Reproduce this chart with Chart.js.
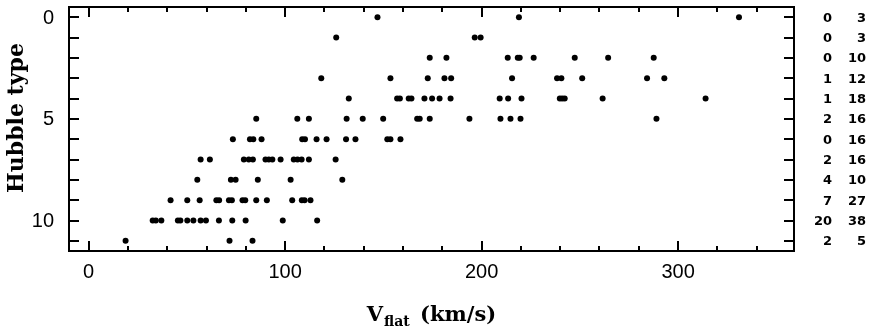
<!DOCTYPE html>
<html>
<head>
<meta charset="utf-8">
<script src="https://cdn.jsdelivr.net/npm/chart.js@4/dist/chart.umd.min.js"></script>
<style>
  html, body { margin: 0; padding: 0; background: #fff; }
  #chart { display: block; }
</style>
</head>
<body>
<canvas id="chart" width="874" height="331"></canvas>
<script>
// V_flat (km/s) per Hubble type
const vflatT0 = [147, 219, 331];
const vflatT1 = [126, 196.5, 199.5];
const vflatT2 = [173.6, 182.1, 213.3, 218.4, 219.4, 226.5, 247.4, 264.4, 287.6];
const vflatT3 = [118.4, 153.6, 172.6, 181.1, 184.5, 215.5, 238.4, 240.6, 251.2, 284.2, 293];
const vflatT4 = [132.4, 157, 158.4, 162.9, 164.3, 170.9, 174.8, 178.6, 184.2, 209.2, 213.5, 220.3, 239.8, 241, 242.3, 261.6, 314];
const vflatT5 = [85.3, 106.2, 112.1, 131.3, 139.5, 149.9, 167.2, 168.5, 173.6, 193.8, 209.6, 214.7, 219.8, 289];
const vflatT6 = [73.4, 82.1, 83.8, 88, 108.7, 110.1, 116, 121.1, 131, 135.8, 152, 153.6, 158.7];
const vflatT7 = [57, 61.7, 79, 81.5, 83.6, 90, 91.7, 93.5, 97.7, 104.4, 106.3, 108.4, 112.1, 125.7];
const vflatT8 = [55.3, 72.4, 74.8, 86.1, 102.8, 129.1];
const vflatT9 = [41.7, 50.2, 56.5, 65, 66.4, 71.4, 72.9, 78.3, 79.7, 85.3, 90.7, 103.6, 108.5, 109.9, 112.9];
const vflatT10 = [32.6, 34.2, 37, 45.4, 46.7, 50.2, 53.3, 57, 59.7, 66.3, 73.1, 79.9, 98.8, 116.3];
const vflatT11 = [18.8, 71.7, 83.4];

const vflatByType = [vflatT0, vflatT1, vflatT2, vflatT3, vflatT4, vflatT5,
                     vflatT6, vflatT7, vflatT8, vflatT9, vflatT10, vflatT11];

// the two number columns on the right, one row per type
const countsLeft = [0, 0, 0, 1, 1, 2, 0, 2, 4, 7, 20, 2];
const countsRight = [3, 3, 10, 12, 18, 16, 16, 16, 10, 27, 38, 5];

const xTickLabels = [0, 100, 200, 300];
const yTickLabels = [0, 5, 10];

const points = [];
vflatByType.forEach((list, type) => {
    list.forEach(v => points.push({ x: v, y: type }));
});

const frameAndLabels = {
    id: 'frameAndLabels',
    afterDraw(chart) {
        const ctx = chart.ctx;
        const area = chart.chartArea;
        const xs = chart.scales.x;
        const ys = chart.scales.y;

        ctx.save();
        ctx.strokeStyle = '#000';
        ctx.lineWidth = 2;
        ctx.strokeRect(area.left, area.top, area.right - area.left, area.bottom - area.top);

        // x ticks, inside, top and bottom
        ctx.beginPath();
        for (let v = 0; v <= 340; v += 20) {
            const px = Math.round(xs.getPixelForValue(v));
            const len = v % 100 === 0 ? 10 : 5;
            ctx.moveTo(px, area.bottom);
            ctx.lineTo(px, area.bottom - len);
            ctx.moveTo(px, area.top);
            ctx.lineTo(px, area.top + len);
        }
        // y ticks, every type
        for (let t = 0; t <= 11; t++) {
            const py = Math.round(ys.getPixelForValue(t));
            ctx.moveTo(area.left, py);
            ctx.lineTo(area.left + 10, py);
            ctx.moveTo(area.right, py);
            ctx.lineTo(area.right - 10, py);
        }
        ctx.stroke();

        ctx.fillStyle = '#000';
        ctx.font = '20px "Liberation Sans"';
        ctx.textBaseline = 'middle';
        ctx.textAlign = 'center';
        xTickLabels.forEach(v => {
            ctx.fillText(String(v), xs.getPixelForValue(v), 272);
        });
        ctx.textAlign = 'right';
        yTickLabels.forEach(v => {
            ctx.fillText(String(v), 54, ys.getPixelForValue(v) + 1);
        });

        // right-hand columns
        ctx.font = 'bold 13px "DejaVu Sans"';
        for (let t = 0; t < countsLeft.length; t++) {
            const py = ys.getPixelForValue(t) + 1;
            ctx.fillText(String(countsLeft[t]), 832, py);
            ctx.fillText(String(countsRight[t]), 866, py);
        }

        // x axis title with subscript
        ctx.textBaseline = 'alphabetic';
        ctx.textAlign = 'left';
        const bigFont = 'bold 21px "DejaVu Serif"';
        const subFont = 'bold 14px "DejaVu Serif"';
        ctx.font = bigFont;
        const wV = ctx.measureText('V').width;
        const wRest = ctx.measureText(' (km/s)').width;
        ctx.font = subFont;
        const wSub = ctx.measureText('flat').width + 4;
        const cx = (area.left + area.right) / 2;
        let x0 = cx - (wV + wSub + wRest) / 2;
        const base = 321;
        ctx.font = bigFont;
        ctx.fillText('V', x0, base);
        ctx.font = subFont;
        ctx.fillText('flat', x0 + wV + 1, base + 5);
        ctx.font = bigFont;
        ctx.fillText(' (km/s)', x0 + wV + wSub, base);

        // y axis title
        ctx.translate(17, 118);
        ctx.rotate(-Math.PI / 2);
        ctx.textAlign = 'center';
        ctx.textBaseline = 'middle';
        ctx.font = 'bold 22px "DejaVu Serif"';
        ctx.fillText('Hubble type', 0, 0);
        ctx.restore();
    }
};

new Chart(document.getElementById('chart'), {
    type: 'scatter',
    data: {
        datasets: [{
            data: points,
            backgroundColor: '#000',
            borderWidth: 0,
            pointRadius: 3
        }]
    },
    options: {
        responsive: false,
        animation: false,
        devicePixelRatio: 1,
        layout: { padding: { left: 69, right: 80, top: 7, bottom: 80 } },
        plugins: { legend: { display: false }, tooltip: { enabled: false } },
        scales: {
            x: { type: 'linear', min: -10, max: 359, display: false },
            y: { type: 'linear', min: -0.5, max: 11.5, reverse: true, display: false }
        }
    },
    plugins: [frameAndLabels]
});
</script>
</body>
</html>
